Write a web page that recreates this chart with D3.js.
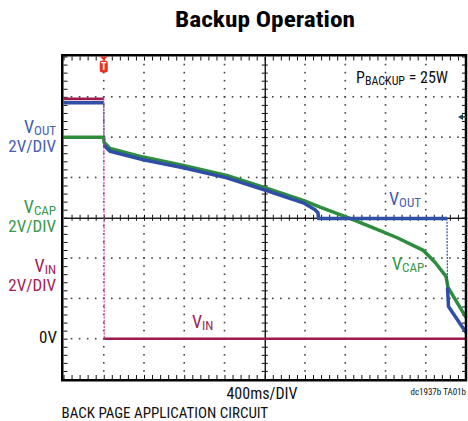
<!DOCTYPE html>
<html>
<head>
<meta charset="utf-8">
<script src="https://cdn.jsdelivr.net/npm/d3@7"></script>
<style>
  html, body { margin: 0; padding: 0; background: #fff; }
  svg { display: block; font-family: "Liberation Sans Narrow", "Arial Narrow", "Roboto Condensed", sans-serif; }
</style>
</head>
<body>
<svg id="chart" width="468" height="421"></svg>
<script>
// Scope capture: 400ms/DIV, 2V/DIV, 0V one division above the bottom
const vinTime = [0, 400, 405, 4000];
const vinVolts = [11.9, 11.9, 0, 0];

const voutTime = [0, 400, 402, 462, 793, 1191, 1622, 1986, 2383, 2500, 2529, 2535, 3811, 3816, 3826, 4000];
const voutVolts = [11.7, 11.7, 9.6, 9.3, 8.88, 8.48, 7.98, 7.4, 6.74, 6.4, 6.25, 5.96, 5.96, 2.55, 1.6, 0.31];

const vcapTime = [0, 400, 402, 462, 793, 1191, 1622, 1986, 2383, 2549, 2815, 3079, 3311, 3576, 3692, 3801, 3821, 4000];
const vcapVolts = [10.0, 10.0, 9.75, 9.44, 9.01, 8.6, 8.1, 7.52, 6.86, 6.53, 6.03, 5.5, 5.02, 4.38, 3.79, 3.09, 2.55, 1.06];

const triggerTime = 400;
const refMarkerVolts = 11;

const svg = d3.select('#chart');

const x = d3.scaleLinear().domain([0, 4000]).range([63.5, 466]);
const y = d3.scaleLinear().domain([-2, 14]).range([379, 56.5]);

const majorT = d3.range(0, 4001, 400);
const majorV = d3.range(-2, 14.01, 2);
const minorT = d3.range(0, 4001, 80);
const minorV = d3.range(-2, 14.01, 0.4).map((v) => +v.toFixed(2));

const COLORS = {
  vin: '#9c1a4d',
  vinEdge: '#d0469a',
  vout: '#2f4fa6',
  vcap: '#2e8d3d',
  voutText: '#4660b1',
  vcapText: '#3b9848',
  vinText: '#a32353',
};

// Title
svg.append('text')
  .attr('x', 265)
  .attr('y', 27)
  .attr('text-anchor', 'middle')
  .style('font-size', '22px')
  .style('font-weight', 'bold')
  .attr('textLength', 180)
  .attr('lengthAdjust', 'spacingAndGlyphs')
  .text('Backup Operation');

const plot = svg.append('g');

// Dotted graticule
const dots = [];
majorT.filter((t) => t !== 0 && t !== 2000 && t !== 4000).forEach((t) => {
  minorV.slice(1, -1).forEach((v) => dots.push([t, v]));
});
majorV.filter((v) => v !== -2 && v !== 6 && v !== 14).forEach((v) => {
  minorT.slice(1, -1).forEach((t) => dots.push([t, v]));
});
plot.append('g')
  .selectAll('rect')
  .data(dots)
  .join('rect')
  .attr('x', (d) => x(d[0]) - 0.8)
  .attr('y', (d) => y(d[1]) - 0.8)
  .attr('width', 1.6)
  .attr('height', 1.6)
  .attr('fill', '#444');

// Centre crosshair with ticks on both sides
function tickAxis(axis, transform, size) {
  const g = plot.append('g')
    .attr('transform', transform)
    .call(axis.tickFormat('').tickSizeInner(size).tickSizeOuter(0));
  g.selectAll('line').attr('stroke', '#111').attr('stroke-width', 1);
  g.select('.domain').attr('stroke', '#111').attr('stroke-width', 1);
  return g;
}
tickAxis(d3.axisTop(x).tickValues(minorT.slice(1, -1)), `translate(0,${y(6)})`, 3);
tickAxis(d3.axisBottom(x).tickValues(minorT.slice(1, -1)), `translate(0,${y(6)})`, 3);
tickAxis(d3.axisLeft(y).tickValues(minorV.slice(1, -1)), `translate(${x(2000)},0)`, 3);
tickAxis(d3.axisRight(y).tickValues(minorV.slice(1, -1)), `translate(${x(2000)},0)`, 3);

// Border ticks pointing inward
[
  [d3.axisTop(x).tickValues(minorT), `translate(0,${y(-2)})`],
  [d3.axisBottom(x).tickValues(minorT), `translate(0,${y(14)})`],
  [d3.axisRight(y).tickValues(minorV), `translate(${x(0)},0)`],
  [d3.axisLeft(y).tickValues(minorV), `translate(${x(4000)},0)`],
].forEach(([axis, tr]) => {
  tickAxis(axis, tr, 4).select('.domain').remove();
});

// Traces: slow parts are drawn as a wide band, fast edges as a thin dotted line
function splitRuns(times, volts) {
  const pts = times.map((t, i) => ({ t, v: volts[i] }));
  const runs = [];
  let cur = [pts[0]];
  for (let i = 1; i < pts.length; i++) {
    const a = pts[i - 1];
    const b = pts[i];
    const fast = b.t - a.t < 8 && Math.abs(b.v - a.v) > 0.4;
    if (fast) {
      if (cur.length > 1) runs.push({ edge: false, pts: cur });
      runs.push({ edge: true, pts: [a, b] });
      cur = [b];
    } else {
      cur.push(b);
    }
  }
  if (cur.length > 1) runs.push({ edge: false, pts: cur });
  return runs;
}

const line = d3.line().x((d) => x(d.t)).y((d) => y(d.v));

function drawTrace(times, volts, color, edgeColor, width) {
  const g = plot.append('g');
  splitRuns(times, volts).forEach((run) => {
    g.append('path')
      .attr('d', line(run.pts))
      .attr('fill', 'none')
      .attr('stroke', run.edge ? edgeColor : color)
      .attr('stroke-width', run.edge ? 1.2 : width)
      .attr('stroke-dasharray', run.edge ? '2,1.2' : null)
      .attr('stroke-linejoin', 'round');
  });
}

drawTrace(vcapTime, vcapVolts, COLORS.vcap, COLORS.vcap, 3.5);
drawTrace(voutTime, voutVolts, COLORS.vout, COLORS.vout, 3.5);
drawTrace(vinTime, vinVolts, COLORS.vin, COLORS.vinEdge, 2.6);

// Frame
plot.append('rect')
  .attr('x', x(0) - 1.25)
  .attr('y', y(14) - 1.25)
  .attr('width', x(4000) - x(0) + 1.25)
  .attr('height', y(-2) - y(14) + 2.5)
  .attr('fill', 'none')
  .attr('stroke', '#000')
  .attr('stroke-width', 2.5);

// Trigger marker
const tx = x(triggerTime);
const ty = y(14);
plot.append('path')
  .attr('d', `M${tx - 4},${ty} L${tx + 4},${ty} L${tx},${ty + 4}Z`)
  .attr('fill', '#e8321e');
plot.append('rect')
  .attr('x', tx - 4)
  .attr('y', ty + 4)
  .attr('width', 8)
  .attr('height', 12)
  .attr('rx', 2.5)
  .attr('fill', '#e8321e');
plot.append('text')
  .attr('x', tx)
  .attr('y', ty + 13.5)
  .attr('text-anchor', 'middle')
  .style('font-size', '10px')
  .style('font-weight', 'bold')
  .attr('fill', '#fff')
  .text('T');

// Reference level marker on the right edge
const ry = y(refMarkerVolts);
plot.append('path')
  .attr('d', `M${x(4000) - 8},${ry} L${x(4000) - 3},${ry - 3} L${x(4000) - 3},${ry + 3}Z`)
  .attr('fill', '#1e4750');
plot.append('line')
  .attr('x1', x(4000) - 4).attr('x2', x(4000))
  .attr('y1', ry).attr('y2', ry)
  .attr('stroke', '#1e4750')
  .attr('stroke-width', 1.5);

// Labels with subscripts
function subLabel(px, py, main, sub, color, anchor, mainSize, subSize) {
  const t = svg.append('text')
    .attr('x', px)
    .attr('y', py)
    .attr('text-anchor', anchor)
    .attr('fill', color)
    .style('font-size', `${mainSize}px`);
  t.append('tspan').text(main);
  t.append('tspan').attr('dy', 1.5).style('font-size', `${subSize}px`).text(sub);
  return t;
}

function plainLabel(px, py, txt, color, size, anchor) {
  return svg.append('text')
    .attr('x', px)
    .attr('y', py)
    .attr('text-anchor', anchor)
    .attr('fill', color)
    .style('font-size', `${size}px`)
    .text(txt);
}

subLabel(56, 133, 'V', 'OUT', COLORS.voutText, 'end', 18, 13);
plainLabel(56, 152, '2V/DIV', COLORS.voutText, 17, 'end');
subLabel(56, 213, 'V', 'CAP', COLORS.vcapText, 'end', 18, 13);
plainLabel(56, 232, '2V/DIV', COLORS.vcapText, 17, 'end');
subLabel(56, 272, 'V', 'IN', COLORS.vinText, 'end', 18, 13);
plainLabel(56, 291, '2V/DIV', COLORS.vinText, 17, 'end');
plainLabel(57, 343, '0V', '#111', 17, 'end');

subLabel(389, 205, 'V', 'OUT', COLORS.voutText, 'start', 18, 13);
subLabel(392, 270, 'V', 'CAP', COLORS.vcapText, 'start', 18, 13);
subLabel(192, 328, 'V', 'IN', COLORS.vinText, 'start', 18, 13);

const pb = svg.append('text')
  .attr('x', 356)
  .attr('y', 83)
  .attr('fill', '#111')
  .style('font-size', '16px');
pb.append('tspan').text('P');
pb.append('tspan').attr('dy', 2).style('font-size', '12px').text('BACKUP');
pb.append('tspan').attr('dy', -2).text(' = 25W');

svg.append('text')
  .attr('x', 262)
  .attr('y', 399)
  .attr('text-anchor', 'middle')
  .attr('fill', '#111')
  .style('font-size', '16px')
  .text('400ms/DIV');

svg.append('text')
  .attr('x', 466)
  .attr('y', 395)
  .attr('text-anchor', 'end')
  .attr('fill', '#111')
  .style('font-size', '9px')
  .text('dc1937b TA01b');

svg.append('text')
  .attr('x', 61.5)
  .attr('y', 418)
  .attr('fill', '#111')
  .style('font-size', '15px')
  .text('BACK PAGE APPLICATION CIRCUIT');
</script>
</body>
</html>
